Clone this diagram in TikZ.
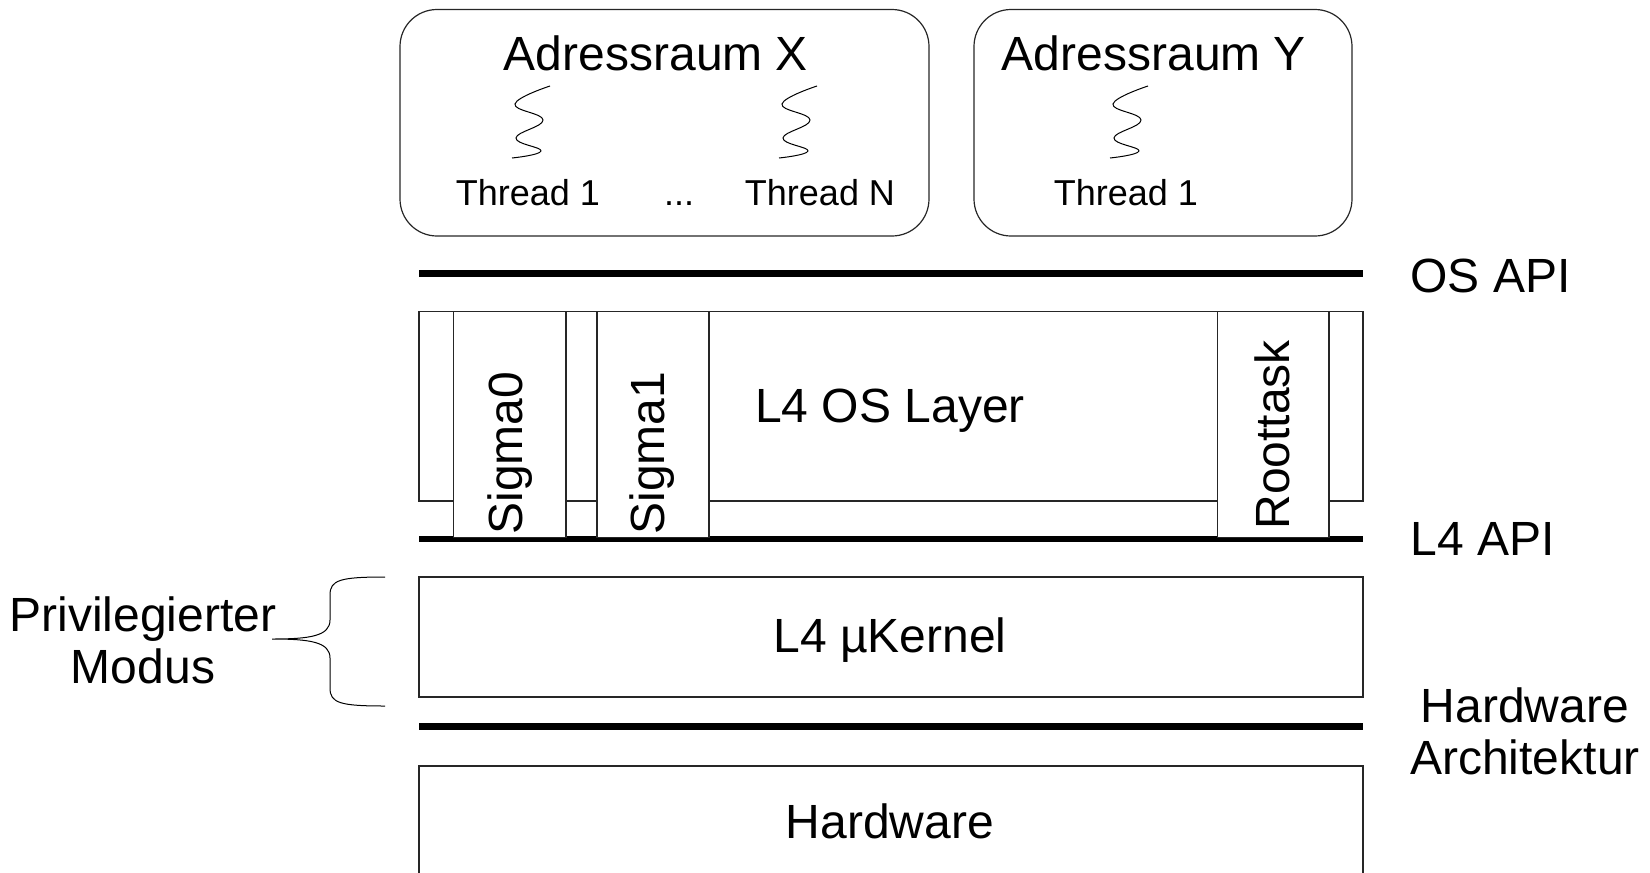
\documentclass[tikz,border=0pt]{standalone}
\usepackage{fontspec}
\setmainfont{Liberation Sans}
\begin{document}
\begin{tikzpicture}[x=0.5pt,y=-0.5pt,
  thin box/.style={draw=black!85, line width=0.6pt},
  task box/.style={thin box, fill=white},
  api line/.style={line width=3.3pt},
  big/.style={font=\fontsize{24}{29}\selectfont, inner sep=0pt},
  small/.style={font=\fontsize{18}{22}\selectfont, inner sep=0pt},
  squiggle/.style={line width=0.5pt}]
\useasboundingbox (0,0) rectangle (1650,873);

% address spaces
\draw[thin box, rounded corners=18.5pt] (400,9.5) rectangle (929,236);
\draw[thin box, rounded corners=18.5pt] (974,9.5) rectangle (1352,236);
\node[big] (asx) at (656,53) {Adressraum X};
\node[big] (asy) at (1154,53) {Adressraum Y};

% thread symbols
\foreach \cx/\nm in {530/sqa, 797/sqb, 1128/sqc}{
  \begin{scope}[shift={(\cx,0)}]
    \draw[squiggle] plot[smooth, tension=0.75] coordinates
      {(20,86) (-15,104) (13,120) (-14,138) (11,151) (-18,158)};
  \end{scope}
}
\node[small, anchor=base] (tx1) at (528,205) {Thread 1};
\node[small, anchor=base] (dots) at (679,205) {...};
\node[small, anchor=base] (txn) at (820,205) {Thread N};
\node[small, anchor=base] (ty1) at (1126,205) {Thread 1};

% interface lines
\coordinate (osl) at (419,273.6);  \coordinate (osr) at (1363,273.6);
\coordinate (l4l) at (419,539);    \coordinate (l4r) at (1363,539);
\coordinate (hwl) at (419,726.5);  \coordinate (hwr) at (1363,726.5);
\draw[api line] (osl) -- (osr);
\draw[api line] (l4l) -- (l4r);
\draw[api line] (hwl) -- (hwr);
\node[big, anchor=west] (osapi) at (1410,276) {OS API};
\node[big, anchor=west] (l4api) at (1410,539) {L4 API};
\node[big, align=center] (hwarch) at (1525,731) {Hardware\\[-3pt]Architektur};

% L4 OS layer with its tasks
\draw[thin box] (419,311.5) rectangle (1363,501);
\node[big] (oslayer) at (890,411) {L4 OS Layer};
\draw[task box] (453.5,311.5) rectangle (566,537.5);
\draw[task box] (597,311.5) rectangle (709,537.5);
\draw[task box] (1217.5,311.5) rectangle (1329,537.5);
\node[big, rotate=90, anchor=west] (sig0) at (510,535) {Sigma0};
\node[big, rotate=90, anchor=west] (sig1) at (652,535) {Sigma1};
\node[big, rotate=90, anchor=west] (root) at (1272,530) {Roottask};

% kernel
\draw[thin box] (419,577) rectangle (1363,697);
\node[big] (kernel) at (890,640) {L4 µKernel};

% hardware
\draw[thin box] (419,873) -- (419,766) -- (1363,766) -- (1363,873);
\node[big] (hw) at (890,821) {Hardware};

% privileged mode brace
\coordinate (btop) at (385,577);
\coordinate (btip) at (272,639);
\coordinate (bbot) at (385,706);
\draw[line width=0.5pt] (btop) .. controls (340,577) and (330,580) .. (330,595)
  -- (330,620) .. controls (330,636) and (310,639) .. (btip)
  .. controls (310,639) and (330,642) .. (330,658)
  -- (330,688) .. controls (330,703) and (340,706) .. (bbot);
\node[big, align=center] (priv) at (143,640) {Privilegierter\\[-3pt]Modus};
\end{tikzpicture}
\end{document}
